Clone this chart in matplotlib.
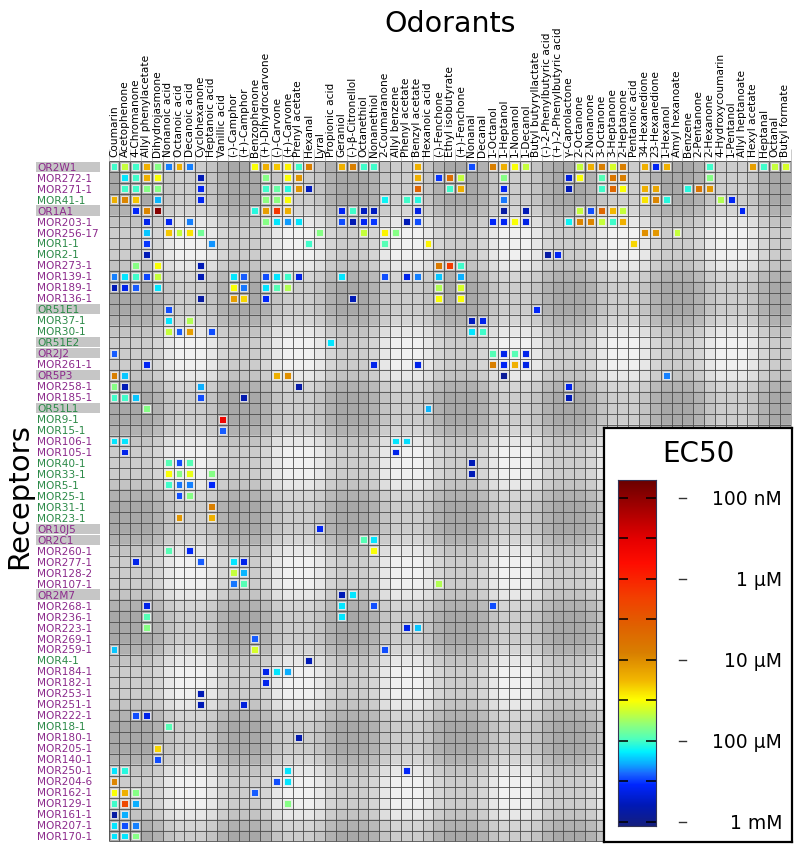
import numpy as np
import matplotlib
matplotlib.use('Agg')
import matplotlib.pyplot as plt
import matplotlib.transforms as mtransforms
from matplotlib.colors import LinearSegmentedColormap, Normalize
from matplotlib.patches import Rectangle
from matplotlib.lines import Line2D

# ---- data -------------------------------------------------------------------
odorants = [
    'Coumarin', 'Acetophenone', '4-Chromanone', 'Allyl phenylacetate',
    'Dihydrojasmone', 'Nonanoic acid', 'Octanoic acid', 'Decanoic acid',
    'Cyclohexanone', 'Heptanoic acid', 'Vanillic acid', '(-)-Camphor',
    '(+)-Camphor', 'Benzophenone', '(+)-Dihydrocarvone', '(-)-Carvone',
    '(+)-Carvone', 'Prenyl acetate', 'Hexanal', 'Lyral', 'Propionic acid',
    'Geraniol', '(-)-β-Citronellol', 'Octanethiol', 'Nonanethiol',
    '2-Coumaranone', 'Allyl benzene', 'Phenyl acetate', 'Benzyl acetate',
    'Hexanoic acid', '(-)-Fenchone', 'Ethyl isobutyrate', '(+)-Fenchone',
    'Nonanal', 'Decanal', '1-Octanol', '1-Heptanol', '1-Nonanol', '1-Decanol',
    'Butyl butyryllactate', '(-)-2-Phenylbutyric acid',
    '(+)-2-Phenylbutyric acid', 'γ-Caprolactone', '2-Octanone', '2-Nonanone',
    '3-Octanone', '3-Heptanone', '2-Heptanone', 'Pentanoic acid',
    '34-Hexanedione', '23-Hexanedione', '1-Hexanol', 'Amyl hexanoate',
    'Benzene', '2-Pentanone', '2-Hexanone', '4-Hydroxycoumarin', '1-Pentanol',
    'Allyl heptanoate', 'Hexyl acetate', 'Heptanal', 'Octanal', 'Butyl formate',
]

receptors = [
    'OR2W1', 'MOR272-1', 'MOR271-1', 'MOR41-1', 'OR1A1', 'MOR203-1',
    'MOR256-17', 'MOR1-1', 'MOR2-1', 'MOR273-1', 'MOR139-1', 'MOR189-1',
    'MOR136-1', 'OR51E1', 'MOR37-1', 'MOR30-1', 'OR51E2', 'OR2J2', 'MOR261-1',
    'OR5P3', 'MOR258-1', 'MOR185-1', 'OR51L1', 'MOR9-1', 'MOR15-1',
    'MOR106-1', 'MOR105-1', 'MOR40-1', 'MOR33-1', 'MOR5-1', 'MOR25-1',
    'MOR31-1', 'MOR23-1', 'OR10J5', 'OR2C1', 'MOR260-1', 'MOR277-1',
    'MOR128-2', 'MOR107-1', 'OR2M7', 'MOR268-1', 'MOR236-1', 'MOR223-1',
    'MOR269-1', 'MOR259-1', 'MOR4-1', 'MOR184-1', 'MOR182-1', 'MOR253-1',
    'MOR251-1', 'MOR222-1', 'MOR18-1', 'MOR180-1', 'MOR205-1', 'MOR140-1',
    'MOR250-1', 'MOR204-6', 'MOR162-1', 'MOR129-1', 'MOR161-1', 'MOR207-1',
    'MOR170-1',
]

# 1 = class I (green label), 2 = class II (purple label)
receptor_class = [2, 2, 2, 1, 2, 2, 2, 1, 1, 2, 2, 2, 2,
                  1, 1, 1, 1, 2, 2, 2, 2, 2, 1, 1, 1,
                  2, 2, 1, 1, 1, 1, 1, 1,
                  2, 2, 2, 2, 2, 2, 2, 2, 2, 2, 2, 2,
                  1, 2, 2, 2, 2, 2, 1, 2, 2, 2, 2, 2, 2, 2, 2, 2, 2]

# responding odorants (1-based column) for each receptor, same order as receptors
hit_cols = [
    [1, 2, 3, 4, 5, 6, 7, 8, 14, 15, 16, 17, 18, 19, 22, 23, 24, 25, 29, 34,
     36, 37, 38, 39, 44, 45, 46, 47, 48, 50, 51, 52, 56, 60, 61, 62, 63],
    [2, 3, 4, 5, 9, 15, 17, 18, 29, 31, 32, 33, 37, 43, 44, 46, 47, 48, 56],
    [2, 3, 4, 5, 9, 15, 16, 17, 18, 19, 29, 32, 33, 37, 43, 46, 47, 48, 50,
     51, 54, 55, 56],
    [1, 2, 3, 5, 9, 15, 16, 17, 26, 28, 29, 37, 50, 51, 52, 57, 58],
    [3, 4, 5, 14, 15, 16, 17, 22, 23, 24, 25, 29, 37, 39, 44, 45, 46, 47, 48, 59],
    [4, 6, 8, 15, 16, 17, 18, 22, 23, 24, 25, 28, 29, 36, 37, 38, 39, 43, 44,
     45, 46, 47, 48],
    [4, 6, 7, 8, 9, 20, 24, 26, 27, 50, 51, 53],
    [4, 10, 19, 26, 30, 49],
    [4, 41, 42],
    [3, 5, 9, 31, 32, 33],
    [1, 2, 3, 4, 5, 9, 12, 13, 15, 16, 17, 18, 22, 26, 28, 29, 31, 33],
    [1, 2, 3, 5, 12, 13, 15, 16, 17, 31, 33],
    [9, 12, 13, 15, 23, 31, 33],
    [6, 40],
    [6, 8, 34, 35],
    [6, 7, 8, 10, 34, 35],
    [21],
    [1, 36, 37, 38, 39],
    [4, 25, 29, 36, 37, 38, 39],
    [1, 2, 16, 17, 37, 52],
    [1, 2, 9, 18, 43],
    [1, 2, 3, 9, 13, 43],
    [4, 30],
    [11],
    [11],
    [1, 2, 27, 28],
    [2, 27],
    [6, 7, 8, 34],
    [6, 7, 8, 10, 34],
    [6, 7, 8, 10],
    [7, 8],
    [10],
    [7, 10],
    [20],
    [24, 25],
    [6, 8, 25],
    [3, 9, 12, 13],
    [12, 13],
    [12, 13, 31],
    [22, 23],
    [4, 22, 25, 36],
    [4, 22],
    [4, 28, 29],
    [14],
    [1, 14, 26],
    [19],
    [15, 16, 17],
    [15],
    [9],
    [9, 13],
    [3, 4],
    [6],
    [18],
    [5],
    [5],
    [1, 2, 17, 28],
    [1, 16, 17],
    [1, 2, 3, 14],
    [1, 2, 3, 17],
    [1, 2],
    [1, 2, 3],
    [1, 2, 3],
]

# pEC50 (-log10 EC50 [M]) for the hits above
hit_pec50 = [
    [4.0, 4.34, 4.0, 4.79, 4.17, 3.65, 4.79, 3.65, 4.49, 4.79, 4.7, 4.55, 4.0,
     5.09, 4.79, 5.09, 4.0, 4.0, 4.79, 3.55, 5.09, 4.79, 4.49, 4.34, 4.34,
     4.79, 5.09, 4.4, 5.09, 4.79, 3.42, 4.79, 4.0, 4.9, 4.0, 4.34, 4.4],
    [3.85, 4.0, 4.79, 4.49, 3.21, 4.17, 4.49, 4.95, 4.79, 3.5, 5.3, 4.34, 4.17,
     3.35, 4.49, 4.05, 5.2, 5.1, 4.17],
    [4.0, 4.0, 4.17, 4.17, 3.42, 4.0, 4.1, 3.95, 4.95, 3.25, 5.4, 4.0, 4.79,
     3.42, 3.21, 4.0, 5.35, 4.49, 4.79, 4.85, 3.95, 5.2, 4.95],
    [4.79, 5.05, 4.7, 3.74, 3.42, 4.2, 4.2, 4.49, 3.9, 4.0, 3.95, 3.62, 4.6,
     5.05, 3.95, 4.3, 3.42],
    [3.45, 5.05, 7.05, 3.95, 4.9, 5.85, 4.79, 3.42, 4.0, 3.25, 3.25, 3.38, 3.12,
     3.21, 4.34, 3.55, 5.35, 4.75, 4.34, 3.42],
    [3.4, 3.42, 3.65, 4.17, 3.85, 3.7, 3.85, 3.55, 3.2, 3.42, 3.5, 3.21, 3.55,
     3.45, 3.42, 4.49, 3.38, 3.9, 5.05, 5.05, 4.34, 4.0, 4.79],
    [3.78, 4.7, 4.34, 4.6, 4.12, 4.17, 4.34, 4.55, 4.17, 5.0, 4.95, 4.34],
    [3.5, 3.68, 4.0, 4.05, 4.55, 4.65],
    [3.21, 3.12, 3.42],
    [4.17, 4.49, 3.21, 5.15, 5.8, 4.0],
    [3.65, 3.85, 4.0, 3.52, 4.34, 3.21, 3.85, 3.58, 3.55, 3.85, 4.0, 3.38,
     3.85, 3.55, 3.4, 3.65, 3.78, 3.72],
    [3.21, 3.4, 3.58, 3.85, 4.49, 3.62, 3.85, 4.05, 4.3, 4.3, 4.4],
    [3.12, 4.9, 4.65, 3.45, 3.21, 4.49, 4.49],
    [3.55, 3.45],
    [3.85, 4.3, 3.25, 3.4],
    [4.34, 3.58, 4.9, 3.55, 3.85, 4.0],
    [3.85],
    [3.58, 4.05, 3.4, 4.05, 3.4],
    [3.42, 3.4, 3.4, 5.1, 3.42, 4.8, 3.38],
    [5.1, 3.78, 4.8, 5.0, 3.08, 3.65],
    [4.17, 3.21, 3.72, 3.15, 3.4],
    [4.0, 4.0, 3.78, 3.55, 3.18, 3.21],
    [4.17, 3.74],
    [6.4],
    [3.58],
    [3.85, 3.85, 3.85, 3.82],
    [3.4, 3.4],
    [4.05, 3.55, 4.05, 3.21],
    [4.5, 4.17, 4.45, 4.17, 3.21],
    [4.0, 3.62, 3.65, 3.45],
    [3.55, 4.17],
    [5.1],
    [4.95, 4.8],
    [3.42],
    [4.05, 3.85],
    [4.05, 3.45, 4.49],
    [3.4, 3.58, 3.85, 3.4],
    [4.34, 3.74],
    [3.62, 4.05, 4.3],
    [3.21, 3.85],
    [3.4, 3.85, 3.55, 3.55],
    [4.05, 3.85],
    [4.17, 3.4, 3.78],
    [3.58],
    [3.78, 4.4, 3.55],
    [3.21],
    [3.4, 3.85, 3.72],
    [3.4],
    [3.21],
    [3.21, 3.35],
    [3.55, 3.4],
    [4.05],
    [3.18],
    [4.65],
    [3.55],
    [3.85, 3.95, 3.85, 3.45],
    [5.05, 3.55, 3.85],
    [4.49, 4.79, 4.17, 3.58],
    [4.0, 5.7, 3.72, 4.17],
    [3.12, 3.72],
    [3.85, 3.55, 3.65],
    [3.85, 3.85, 4.17],
]

cbar_ticks = [7, 6, 5, 4, 3]
cbar_labels = ['100 nM', '1 µM', '10 µM', '100 µM', '1 mM']

for name, cs, vs in zip(receptors, hit_cols, hit_pec50):
    if len(cs) != len(vs):
        print('length mismatch', name, len(cs), len(vs))

# ---- colour scale -----------------------------------------------------------
vmin, vmax = 2.95, 7.22
norm = Normalize(vmin=vmin, vmax=vmax)
cmap = LinearSegmentedColormap.from_list('ec50', [
    (0.00, (0.08, 0.12, 0.50)), (0.06, (0.00, 0.10, 0.72)),
    (0.118, (0.00, 0.15, 1.00)), (0.15, (0.10, 0.40, 1.00)),
    (0.176, (0.05, 0.65, 1.00)), (0.214, (0.00, 0.95, 1.00)),
    (0.249, (0.30, 1.00, 0.75)), (0.29, (0.55, 1.00, 0.50)),
    (0.33, (0.80, 1.00, 0.20)), (0.364, (1.00, 1.00, 0.00)),
    (0.42, (0.95, 0.72, 0.00)), (0.50, (0.85, 0.50, 0.00)),
    (0.58, (0.88, 0.38, 0.00)), (0.66, (0.95, 0.25, 0.00)),
    (0.76, (1.00, 0.05, 0.00)), (0.83, (0.90, 0.00, 0.00)),
    (1.00, (0.42, 0.00, 0.00)),
])

# ---- figure -----------------------------------------------------------------
W, H = 800, 851
fig = plt.figure(figsize=(W / 100, H / 100), dpi=100)
fx = lambda px: px / W
fy = lambda py: 1 - py / H

n_r, n_c = len(receptors), len(odorants)
gl, gr, gt, gb = 108.6, 790.7, 161.2, 841.5
ax = fig.add_axes([fx(gl), fy(gb), (gr - gl) / W, (gb - gt) / H])

# shaded background blocks of 5 rows x 5 columns
def band(n):
    b = ((np.arange(n) // 5) % 2 == 0).astype(float)
    p = np.pad(b, 1, mode='edge')
    return 0.25 * p[:-2] + 0.5 * p[1:-1] + 0.25 * p[2:]

bg = 0.94 - 0.14 * band(n_r)[:, None] - 0.14 * band(n_c)[None, :]
ax.imshow(bg, cmap='gray', vmin=0, vmax=1, aspect='auto',
          extent=(0.5, n_c + 0.5, n_r + 0.5, 0.5), interpolation='nearest',
          zorder=0)
ax.vlines(np.arange(0.5, n_c + 1), 0.5, n_r + 0.5, colors='#4a4a4a',
          linewidth=0.6, zorder=1)
ax.hlines(np.arange(0.5, n_r + 1), 0.5, n_c + 0.5, colors='#4a4a4a',
          linewidth=0.6, zorder=1)
ax.vlines(np.arange(0.5, n_c + 1), -0.6, 0.5, colors='#b5b5b5',
          linewidth=0.5, clip_on=False)

rows = [i + 1 for i, cs in enumerate(hit_cols) for _ in cs]
cols = [c for cs in hit_cols for c in cs]
vals = [v for vs in hit_pec50 for v in vs]
ax.scatter(cols, rows, c=vals, cmap=cmap, norm=norm, marker='s', s=25,
           edgecolors='#f0f0f0', linewidths=0.6, zorder=3)

ax.set_xlim(0.5, n_c + 0.5)
ax.set_ylim(n_r + 0.5, 0.5)
ax.axis('off')

for j, name in enumerate(odorants, 1):
    ax.text(j, 0.15, name, rotation=90, ha='center', va='bottom',
            fontsize=7.6, clip_on=False)

trans = mtransforms.blended_transform_factory(fig.transFigure, ax.transData)
for i, (name, cls) in enumerate(zip(receptors, receptor_class), 1):
    color = '#2c8a48' if cls == 1 else '#8c2a8c'
    if name.startswith('OR'):
        ax.add_patch(Rectangle((fx(36), i - 0.47), 64 / W, 0.94,
                               transform=trans, facecolor='#c6c6c6',
                               edgecolor='none', clip_on=False))
    ax.text(fx(37), i, name, transform=trans, ha='left',
            va='center_baseline', fontsize=7.6, color=color, clip_on=False)

fig.text(fx(450), fy(32), 'Odorants', ha='center', va='baseline',
         fontsize=20.5)
fig.text(fx(19), fy(496), 'Receptors', rotation=90, ha='center',
         va='center', fontsize=21)

# ---- colour bar box ---------------------------------------------------------
box = fig.add_axes([fx(604), fy(842), 188 / W, 414 / H])
box.set_xticks([])
box.set_yticks([])
box.set_facecolor('white')
for s in box.spines.values():
    s.set_linewidth(1.6)
    s.set_color('black')

cax = fig.add_axes([fx(618), fy(826), 38 / W, 346 / H])
grad = np.linspace(vmin, vmax, 512).reshape(-1, 1)
cax.imshow(grad, cmap=cmap, norm=norm, origin='lower', aspect='auto',
           extent=(0, 1, vmin, vmax))
cax.set_xticks([])
cax.set_yticks(np.arange(3, 7.01, 0.5))
cax.tick_params(axis='y', direction='in', left=True, right=True, length=7,
                width=1.1, color='black', labelleft=False)
for s in cax.spines.values():
    s.set_linewidth(0.8)
    s.set_color('#333355')

ctrans = mtransforms.blended_transform_factory(fig.transFigure, cax.transData)
for v, lab in zip(cbar_ticks, cbar_labels):
    cax.text(fx(782), v, lab, transform=ctrans, ha='right',
             va='center_baseline', fontsize=13.5, clip_on=False)
    cax.add_line(Line2D([fx(679), fx(686)], [v, v], transform=ctrans,
                        color='#333333', linewidth=1, clip_on=False))

fig.text(fx(698), fy(462), 'EC50', ha='center', va='baseline', fontsize=20)

fig.savefig('out.png', dpi=100)
